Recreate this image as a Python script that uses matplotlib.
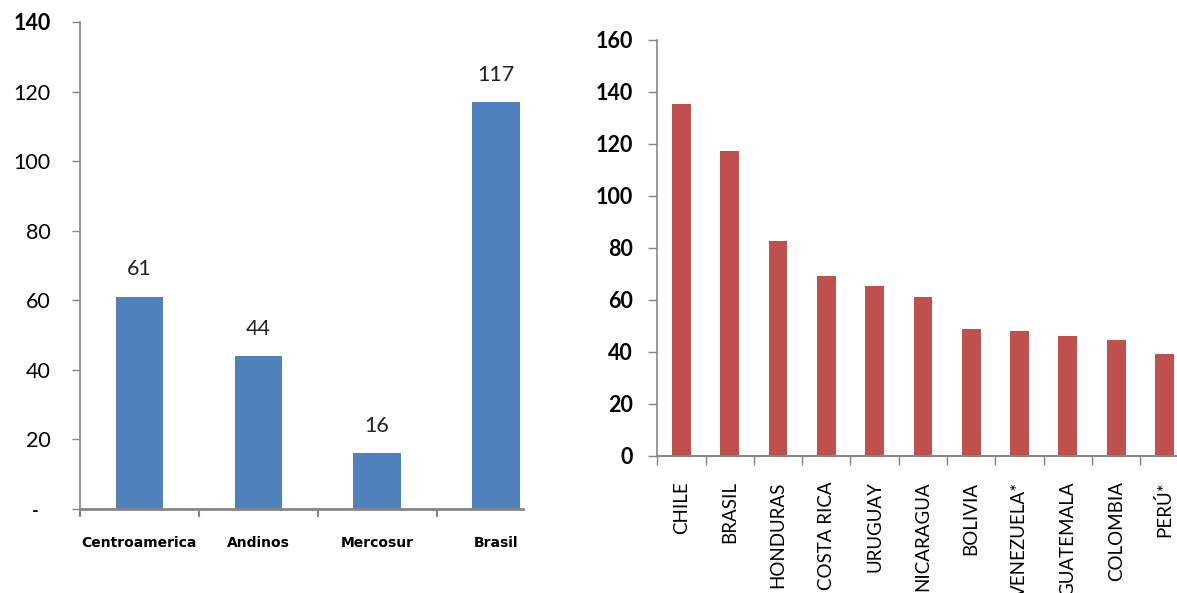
import matplotlib
matplotlib.use('Agg')
import matplotlib.pyplot as plt
from matplotlib.ticker import FixedLocator

# ---- data ----
regions = ["Centroamerica", "Andinos", "Mercosur", "Brasil"]
region_values = [61, 44, 16, 117]
region_labels = ["61", "44", "16", "117"]

countries = ["CHILE", "BRASIL", "HONDURAS", "COSTA RICA", "URUGUAY", "NICARAGUA",
             "BOLIVIA", "VENEZUELA*", "GUATEMALA", "COLOMBIA", "PERÚ*"]
country_values = [135.4, 117.3, 82.8, 69.3, 65.4, 60.9, 48.6, 48.1, 46.2, 44.6, 39.2]

left_yticks = [0, 20, 40, 60, 80, 100, 120, 140]
left_yticklabels = ["", "20", "40", "60", "80", "100", "120", "140"]
right_yticks = [0, 20, 40, 60, 80, 100, 120, 140, 160]
right_yticklabels = ["0", "20", "40", "60", "80", "100", "120", "140", "160"]

BLUE = "#4F81BD"
RED = "#C0504D"
GRAY = "#868686"
FONT = "Lato"

W, H = 1177, 593
fig = plt.figure(figsize=(W / 100, H / 100), dpi=100)

# ---------------- left chart ----------------
axL = fig.add_axes([80 / W, (H - 508.6) / H, (523 - 80) / W, (508.6 - 22) / H])
xL = list(range(len(regions)))
axL.bar(xL, region_values, width=0.4, color=BLUE, zorder=2)
axL.set_xlim(-0.5, 3.227)
axL.set_ylim(0, 140)
axL.set_yticks(left_yticks)
axL.set_yticklabels(left_yticklabels, fontsize=15.5, family=FONT, color="black")
for lab in axL.get_yticklabels():
    if lab.get_text() == "140":
        lab.set_fontweight("bold")
axL.tick_params(axis='y', direction='out', length=6, width=1, color=GRAY, pad=15)
axL.set_xticks(xL)
axL.set_xticklabels(regions, fontsize=10, family="DejaVu Sans", fontweight="bold")
axL.tick_params(axis='x', which='major', length=0, pad=20)
axL.xaxis.set_minor_locator(FixedLocator([-0.5, 0.5, 1.5, 2.5]))
axL.tick_params(axis='x', which='minor', direction='out', length=6, width=1.5, color=GRAY)
for s in ["top", "right"]:
    axL.spines[s].set_visible(False)
for s in ["left", "bottom"]:
    axL.spines[s].set_color(GRAY)
    axL.spines[s].set_linewidth(1.2)
axL.spines["bottom"].set_linewidth(2)
for xi, v, t in zip(xL, region_values, region_labels):
    axL.annotate(t, (xi, v), xytext=(0, 19.5), textcoords="offset points",
                 ha="center", va="center", fontsize=15.5, family=FONT, color="#222222")
# zero shown as dash (accounting format)
fig.text(35 / W, 1 - 511 / H, "-", ha="center", va="center", fontsize=13,
         fontweight="bold", family=FONT)

# ---------------- right chart ----------------
axR = fig.add_axes([657.3 / W, (H - 455.7) / H, (W - 657.3) / W, (455.7 - 40) / H])
xR = list(range(len(countries)))
axR.bar(xR, country_values, width=0.39, color=RED, zorder=2)
axR.set_xlim(-0.5, -0.5 + (W - 657.3) / 48.3)
axR.set_ylim(0, 160)
axR.set_yticks(right_yticks)
axR.set_yticklabels(right_yticklabels, fontsize=15.5, family=FONT, fontweight="bold")
axR.tick_params(axis='y', direction='out', length=6.5, width=1, color=GRAY, pad=11)
axR.set_xticks(xR)
axR.set_xticklabels(countries, rotation=90, fontsize=13.5, family=FONT,
                    ha="center", va="top")
axR.tick_params(axis='x', which='major', length=0, pad=18.5)
axR.xaxis.set_minor_locator(FixedLocator([i - 0.5 for i in range(len(countries))]))
axR.tick_params(axis='x', which='minor', direction='out', length=6.5, width=1, color=GRAY)
for s in ["top", "right"]:
    axR.spines[s].set_visible(False)
for s in ["left", "bottom"]:
    axR.spines[s].set_color(GRAY)
    axR.spines[s].set_linewidth(1.2)
axR.spines["bottom"].set_linewidth(1.5)

fig.savefig("out.png", dpi=100)
